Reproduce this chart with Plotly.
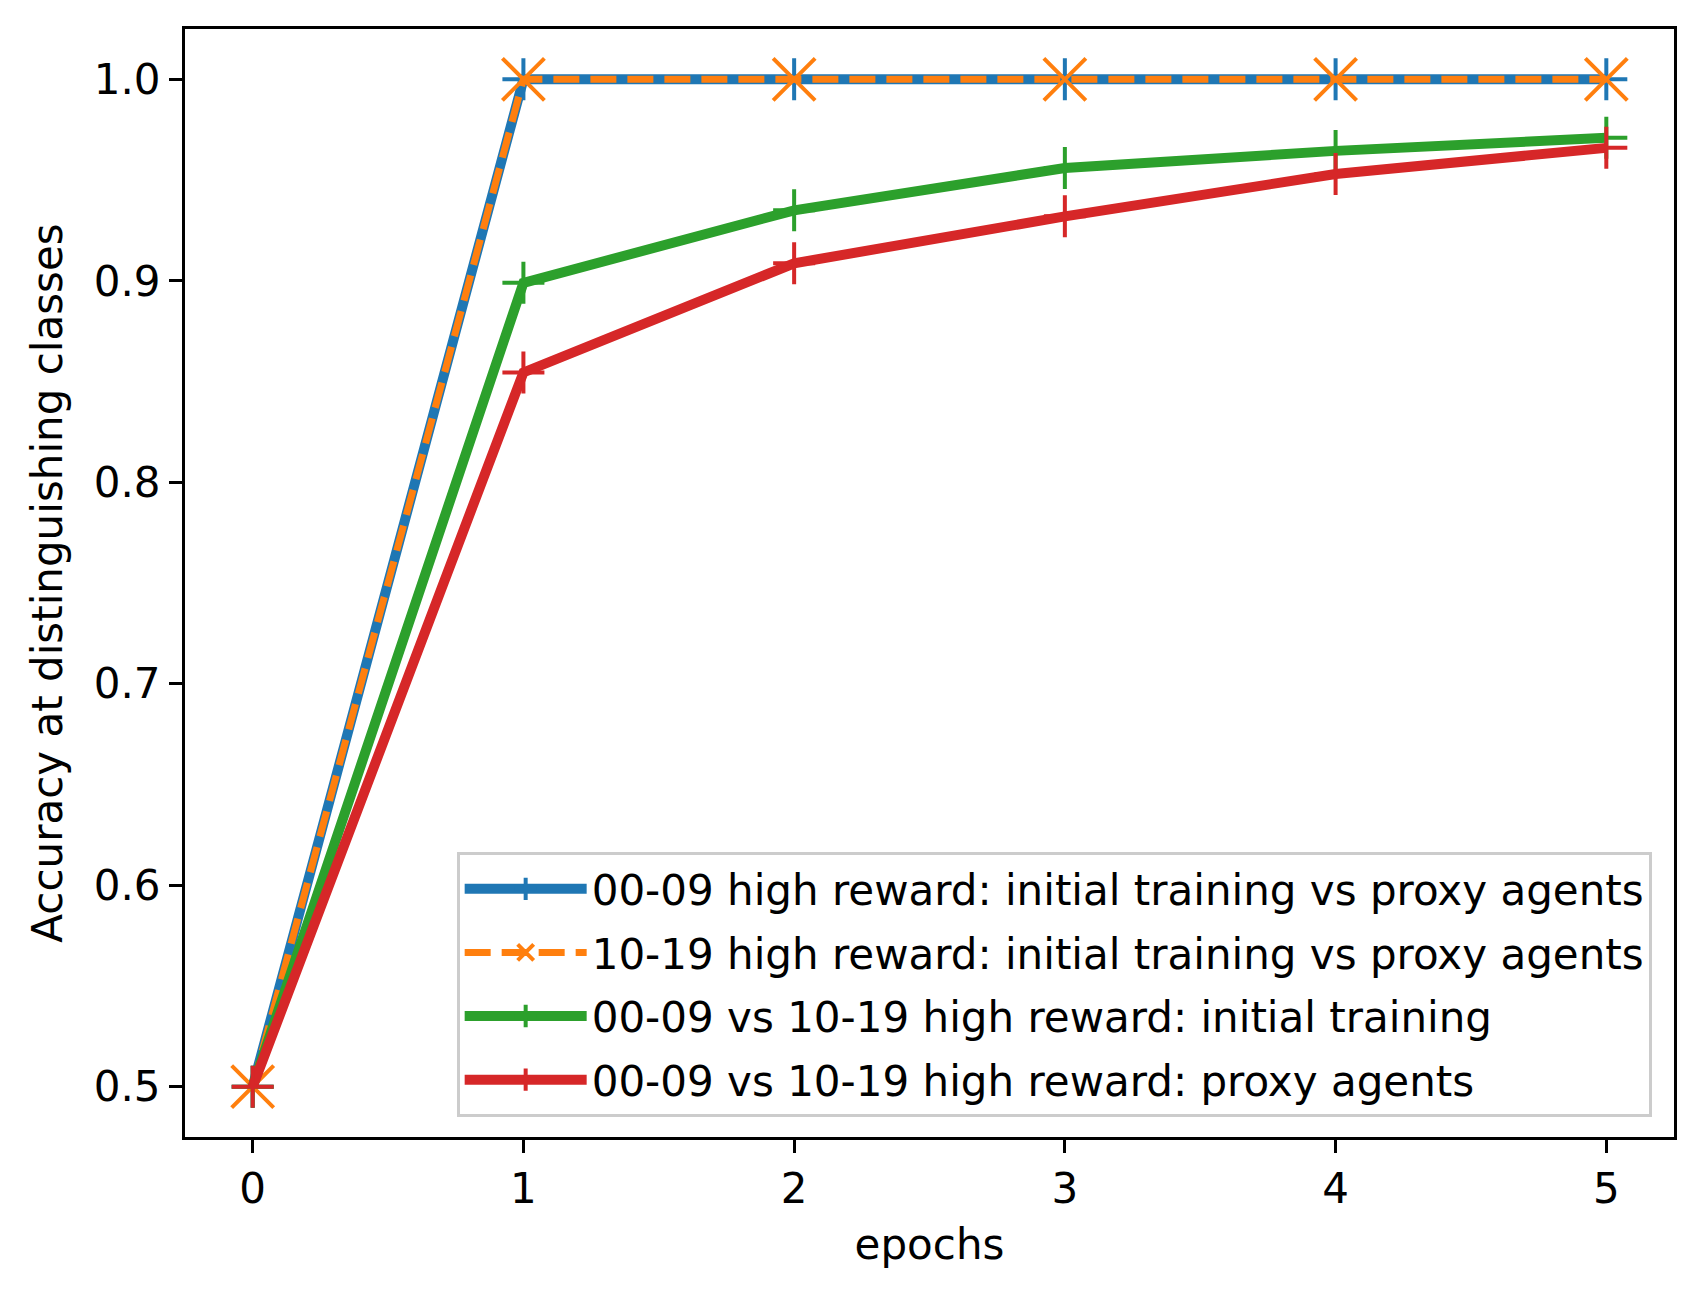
import plotly.graph_objects as go

epochs = [0, 1, 2, 3, 4, 5]
acc_0009_init_vs_proxy = [0.5, 1.0, 1.0, 1.0, 1.0, 1.0]
acc_1019_init_vs_proxy = [0.5, 1.0, 1.0, 1.0, 1.0, 1.0]
acc_init_0009_vs_1019 = [0.5, 0.899, 0.935, 0.956, 0.9645, 0.971]
acc_proxy_0009_vs_1019 = [0.5, 0.8545, 0.9087, 0.932, 0.953, 0.966]

names = [
    "00-09 high reward: initial training vs proxy agents",
    "10-19 high reward: initial training vs proxy agents",
    "00-09 vs 10-19 high reward: initial training",
    "00-09 vs 10-19 high reward: proxy agents",
]

FONT = "DejaVu Sans"
FS = 42
# page body has an 8px margin, so shrink the figure by that much
W, H = 1694, 1290

fig = go.Figure()

# (values, colour, line width, dash, marker symbol, marker size)
styles = [
    (acc_0009_init_vs_proxy, "#1f77b4", 10, "solid", "cross-thin", 30),
    (acc_1019_init_vs_proxy, "#ff7f0e", 7, "26px,11px", "x-thin", 42),
    (acc_init_0009_vs_1019, "#2ca02c", 10, "solid", "cross-thin", 30),
    (acc_proxy_0009_vs_1019, "#d62728", 10, "solid", "cross-thin", 30),
]

for i, (name, (vals, col, lw, dash, sym, ms)) in enumerate(zip(names, styles)):
    fig.add_trace(go.Scatter(
        x=epochs, y=vals, name=name, mode="lines+markers",
        legendgroup=f"g{i}",
        line=dict(color=col, width=lw, dash=dash),
        marker=dict(symbol=sym, size=ms, color=col,
                    line=dict(color=col, width=4)),
    ))

axis_common = dict(
    showline=True, mirror=True, linecolor="black", linewidth=3,
    ticks="outside", ticklen=13, tickwidth=3, tickcolor="black",
    showgrid=False, zeroline=False,
    tickfont=dict(family=FONT, size=FS, color="black"),
)

fig.update_xaxes(
    range=[-0.25, 5.25], tickvals=epochs, ticktext=[str(e) for e in epochs],
    title=dict(text="epochs", font=dict(family=FONT, size=FS, color="black"),
               standoff=18),
    **axis_common,
)
fig.update_yaxes(
    range=[0.475, 1.025], tickvals=[0.5, 0.6, 0.7, 0.8, 0.9, 1.0],
    ticktext=["0.5", "0.6", "0.7", "0.8", "0.9", "1.0"],
    title=dict(text="Accuracy at distinguishing classes",
               font=dict(family=FONT, size=FS, color="black"), standoff=19),
    **axis_common,
)

fig.update_layout(
    width=W, height=H,
    margin=dict(l=177, r=28, t=21, b=161, pad=0),
    paper_bgcolor="white", plot_bgcolor="white",
    font=dict(family=FONT, size=FS, color="black"),
    showlegend=True,
    legend=dict(
        x=0.985, y=0.018, xanchor="right", yanchor="bottom",
        bgcolor="rgba(255,255,255,0.8)", bordercolor="#cccccc", borderwidth=3,
        font=dict(family=FONT, size=FS, color="black"),
        itemwidth=122, tracegroupgap=6,
    ),
)

fig.write_html("out.html")
